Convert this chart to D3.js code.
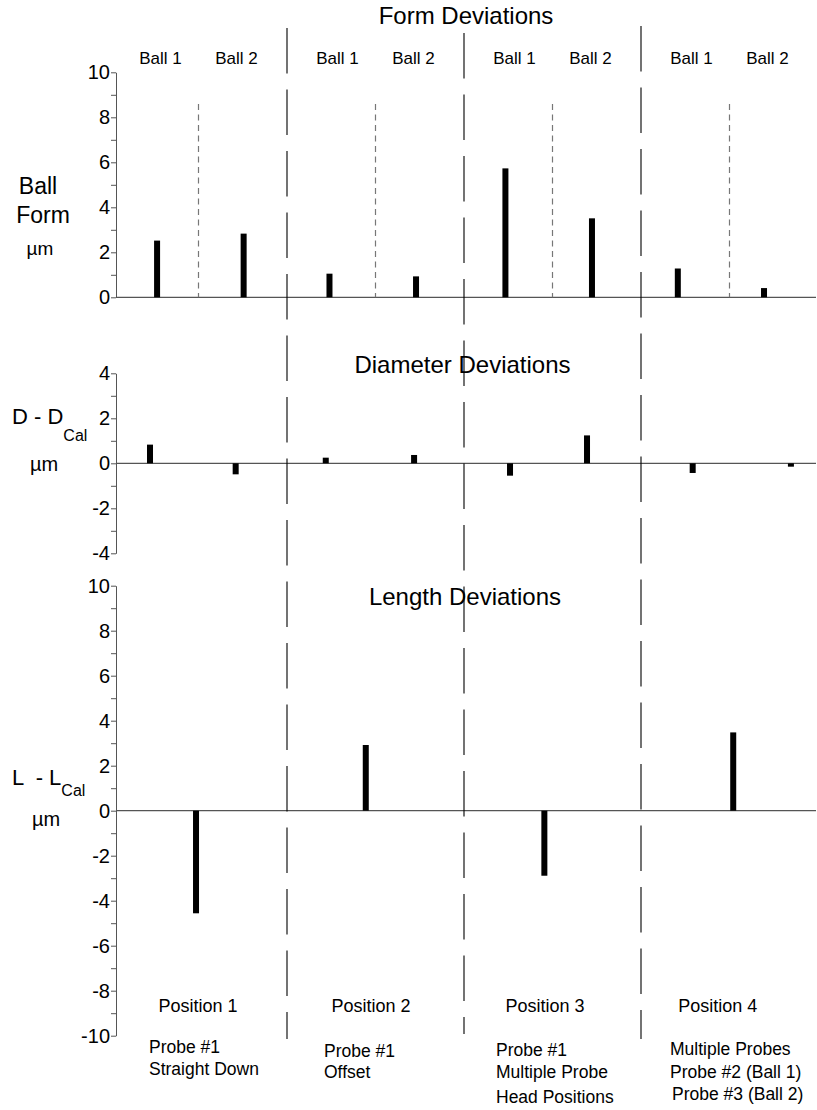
<!DOCTYPE html>
<html><head><meta charset="utf-8">
<script src="https://cdn.jsdelivr.net/npm/d3@7"></script>
<style>
body{margin:0;background:#fff;}
text{font-family:"Liberation Sans",Arial,sans-serif;fill:#000;}
</style></head>
<body><svg id="c" width="817" height="1110"></svg>
<script>
// ---------- data ----------
const positions = ["Position 1","Position 2","Position 3","Position 4"];
const balls = ["Ball 1","Ball 2"];
const probeNotes = [
  ["Probe #1","Straight Down"],
  ["Probe #1","Offset"],
  ["Probe #1","Multiple Probe","Head Positions"],
  ["Multiple Probes","Probe #2 (Ball 1)","Probe #3 (Ball 2)"]
];
// x locations in "position units" (0..4)
const formX = [0.266,0.755,1.240,1.729,2.234,2.723,3.208,3.695];
const formVals = [2.52,2.83,1.05,0.93,5.73,3.51,1.28,0.41];
const diamX = [0.226,0.710,1.219,1.718,2.260,2.695,3.292,3.847];
const diamVals = [0.83,-0.49,0.25,0.37,-0.55,1.24,-0.43,-0.15];
const lenX = [0.486,1.445,2.454,3.521];
const lenVals = [-4.56,2.92,-2.89,3.48];
const formTicks = d3.range(0,11);
const diamTicks = d3.range(-4,5);
const lenTicks = d3.range(-10,11);

// ---------- layout ----------
const svg = d3.select("#c");
const axisX = 116, rightX = 816;
const x = d3.scaleLinear().domain([0,4]).range([110,818]);
const yForm = d3.scaleLinear().domain([0,10]).range([297.3,72.3]);
const yDiam = d3.scaleLinear().domain([-4,4]).range([553.3,373.3]);
const yLen = d3.scaleLinear().domain([-10,10]).range([1035.7,585.7]);
const barW = 6;
const axisColor = "#555";

function drawAxis(y, ticks){
  const g = svg.append("g").attr("transform",`translate(${axisX},0)`)
    .call(d3.axisLeft(y).tickValues(ticks).tickSize(5).tickSizeOuter(0)
      .tickFormat(d => d % 2 === 0 ? String(d).replace("\u2212","-") : ""));
  g.select(".domain").attr("stroke",axisColor).attr("stroke-width",1);
  g.selectAll(".tick line").attr("stroke",axisColor);
  g.selectAll(".tick text").attr("x",-6).attr("font-size",20)
    .attr("font-family",'"Liberation Sans",Arial,sans-serif').attr("fill","#000");
  svg.append("line").attr("x1",axisX).attr("x2",rightX)
    .attr("y1",y(0)).attr("y2",y(0)).attr("stroke",axisColor).attr("stroke-width",1.2);
}
drawAxis(yForm, formTicks);
drawAxis(yDiam, diamTicks);
drawAxis(yLen, lenTicks);

// long dashed position separators
const sepStarts = [28,33,26], sepEnds = [1039,1034,1039];
[1,2,3].forEach((p,i)=>{
  svg.append("line").attr("x1",x(p)).attr("x2",x(p))
    .attr("y1",sepStarts[i]).attr("y2",sepEnds[i])
    .attr("stroke","#000").attr("stroke-width",1.1)
    .attr("stroke-dasharray","45.5,16");
});
// short grey dashed ball separators (top panel)
positions.forEach((p,i)=>{
  svg.append("line").attr("x1",x(i+0.5)).attr("x2",x(i+0.5))
    .attr("y1",104).attr("y2",yForm(0))
    .attr("stroke","#777").attr("stroke-width",1.2)
    .attr("stroke-dasharray","6,4.5");
});

function bars(xs, vals, y){
  svg.append("g").selectAll("rect").data(vals).join("rect")
    .attr("x",(d,i)=>x(xs[i])-barW/2).attr("width",barW)
    .attr("y",d=>Math.min(y(d),y(0))).attr("height",d=>Math.abs(y(d)-y(0)))
    .attr("fill","#000");
}
bars(formX, formVals, yForm);
bars(diamX, diamVals, yDiam);
bars(lenX, lenVals, yLen);

// titles
const title = (t,cx,by)=>svg.append("text").attr("x",cx).attr("y",by)
  .attr("text-anchor","middle").attr("font-size",24).text(t);
title("Form Deviations",466,24);
title("Diameter Deviations",462.5,373);
title("Length Deviations",465,605);

// ball labels
positions.forEach((p,i)=>{
  balls.forEach((b,j)=>{
    svg.append("text").attr("x",x(i+(j===0?0.285:0.715))).attr("y",64)
      .attr("text-anchor","middle").attr("font-size",17).text(b);
  });
});

// y-axis titles
svg.append("text").attr("x",38).attr("y",194).attr("text-anchor","middle").attr("font-size",23).text("Ball");
svg.append("text").attr("x",43).attr("y",223).attr("text-anchor","middle").attr("font-size",23).text("Form");
svg.append("text").attr("x",40).attr("y",255).attr("text-anchor","middle").attr("font-size",19).text("\u00b5m");

const dl = svg.append("text").attr("x",12).attr("y",424).attr("font-size",22).attr("xml:space","preserve");
dl.append("tspan").text("D - D");
dl.append("tspan").attr("font-size",16).attr("dy",17).text("Cal");
svg.append("text").attr("x",44).attr("y",471).attr("text-anchor","middle").attr("font-size",20).text("\u00b5m");

const ll = svg.append("text").attr("x",12).attr("y",785).attr("font-size",22).attr("xml:space","preserve");
ll.append("tspan").text("L  - L");
ll.append("tspan").attr("font-size",16).attr("dy",11).text("Cal");
svg.append("text").attr("x",46).attr("y",826).attr("text-anchor","middle").attr("font-size",20).text("\u00b5m");

// position labels
const posCx = [198,371,545,717.7];
positions.forEach((p,i)=>{
  svg.append("text").attr("x",posCx[i]).attr("y",1011.7).attr("text-anchor","middle").attr("font-size",18).text(p);
});
const noteX = [[149,149],[324,324],[496,496,496],[670,670,672]];
const noteY = [[1053,1075],[1056.7,1078],[1056,1078,1102.7],[1055,1078,1100]];
probeNotes.forEach((lines,i)=>{
  lines.forEach((t,j)=>{
    svg.append("text").attr("x",noteX[i][j]).attr("y",noteY[i][j]).attr("font-size",17.5).text(t);
  });
});
</script></body></html>
